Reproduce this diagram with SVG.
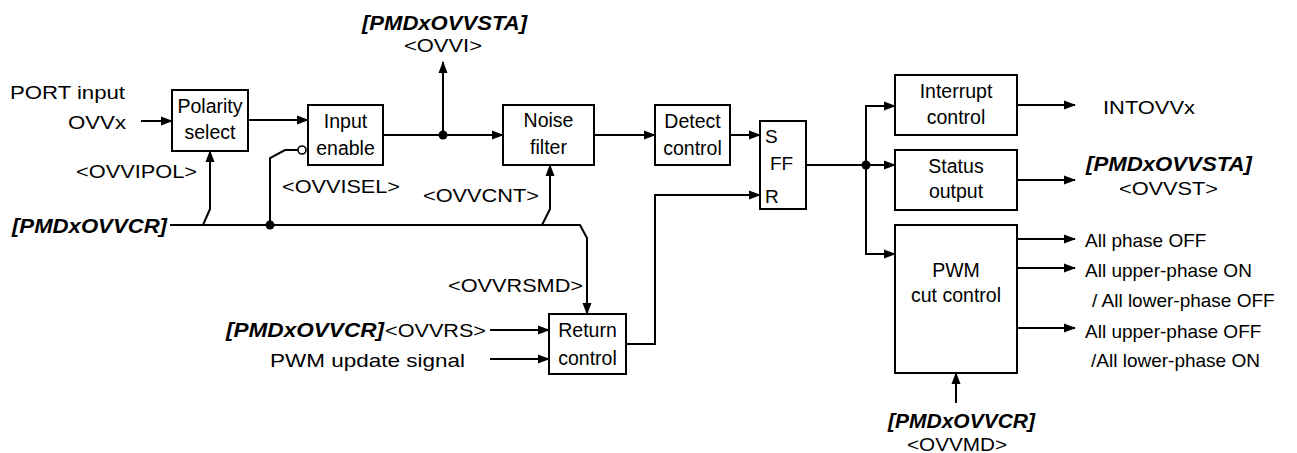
<svg xmlns="http://www.w3.org/2000/svg" width="1297" height="453" viewBox="0 0 1297 453">
<style>
text{font-family:"Liberation Sans",Arial,sans-serif;fill:#000}
.b{font-size:19.5px;text-anchor:middle}
.l{font-size:19px}
.r{font-size:21px;font-weight:bold;font-style:italic}
.box{fill:#fff;stroke:#000;stroke-width:2}
.w{fill:none;stroke:#000;stroke-width:2}
.a{fill:none;stroke:#000;stroke-width:2;marker-end:url(#ah)}
</style>
<defs>
<marker id="ah" markerWidth="12" markerHeight="10" refX="11" refY="5" orient="auto" markerUnits="userSpaceOnUse">
<path d="M0,0.5 L12,5 L0,9.5 Z" fill="#000"/>
</marker>
</defs>
<g id="connectors">
<path class="a" d="M141,121 H172"/>
<path class="a" d="M248,120 H308"/>
<path class="a" d="M170,225 H580 L587,238 V314"/>
<path class="a" d="M203,225 L210,209 V151"/>
<path class="w" d="M270,225 V158 L285,150 H298"/>
<circle cx="302" cy="150" r="4" fill="#fff" stroke="#000" stroke-width="1.6"/>
<circle cx="270" cy="225" r="4.5" fill="#000"/>
<path class="a" d="M383,135 H503"/>
<circle cx="443" cy="135" r="4.5" fill="#000"/>
<path class="a" d="M443,135 V62"/>
<path class="a" d="M542,225 L550,209 V165"/>
<path class="a" d="M594,135 H655"/>
<path class="a" d="M730,135 H760"/>
<path class="a" d="M626,344 H655 V195 H760"/>
<path class="a" d="M806,165 H895"/>
<circle cx="866" cy="165" r="4.5" fill="#000"/>
<path class="a" d="M866,165 V106 H895"/>
<path class="a" d="M866,165 V254 H895"/>
<path class="a" d="M1017,105 H1075"/>
<path class="a" d="M1017,180 H1075"/>
<path class="a" d="M1017,239 H1075"/>
<path class="a" d="M1017,268 H1075"/>
<path class="a" d="M1017,328 H1075"/>
<path class="a" d="M956,403 V373"/>
<path class="a" d="M490,330 H549"/>
<path class="a" d="M490,359 H549"/>
</g>
<g id="polarity">
<rect class="box" x="172" y="90" width="76" height="61"/>
<text class="b" x="210" y="113">Polarity</text>
<text class="b" x="210" y="139">select</text>
</g>
<g id="input-enable">
<rect class="box" x="308" y="105" width="75" height="60"/>
<text class="b" x="345.5" y="128">Input</text>
<text class="b" x="345.5" y="155">enable</text>
</g>
<g id="noise-filter">
<rect class="box" x="503" y="105" width="91" height="60"/>
<text class="b" x="548.5" y="127">Noise</text>
<text class="b" x="548.5" y="154">filter</text>
</g>
<g id="detect-control">
<rect class="box" x="655" y="105" width="75" height="60"/>
<text class="b" x="692.5" y="128">Detect</text>
<text class="b" x="692.5" y="155">control</text>
</g>
<g id="ff">
<rect class="box" x="760" y="121" width="46" height="88"/>
<text class="l" x="765" y="143">S</text>
<text class="l" x="770" y="170">FF</text>
<text class="l" x="765" y="203">R</text>
</g>
<g id="return-control">
<rect class="box" x="549" y="314" width="77" height="60"/>
<text class="b" x="587.5" y="337">Return</text>
<text class="b" x="587.5" y="365">control</text>
</g>
<g id="interrupt-control">
<rect class="box" x="895" y="75" width="122" height="60"/>
<text class="b" x="956" y="98">Interrupt</text>
<text class="b" x="956" y="124">control</text>
</g>
<g id="status-output">
<rect class="box" x="895" y="150" width="122" height="60"/>
<text class="b" x="956" y="173">Status</text>
<text class="b" x="956" y="198">output</text>
</g>
<g id="pwm-cut">
<rect class="box" x="895" y="225" width="122" height="148"/>
<text class="b" x="956" y="277">PWM</text>
<text class="b" x="956" y="302">cut control</text>
</g>
<g id="labels">
<text class="l" x="10" y="99" textLength="115" lengthAdjust="spacingAndGlyphs">PORT input</text>
<text class="l" x="68" y="129" textLength="58" lengthAdjust="spacingAndGlyphs">OVVx</text>
<text class="l" x="76" y="178" textLength="121" lengthAdjust="spacingAndGlyphs">&lt;OVVIPOL&gt;</text>
<text class="r" x="12" y="233" textLength="155" lengthAdjust="spacingAndGlyphs">[PMDxOVVCR]</text>
<text class="l" x="282" y="193" textLength="118" lengthAdjust="spacingAndGlyphs">&lt;OVVISEL&gt;</text>
<text class="l" x="423" y="202" textLength="116" lengthAdjust="spacingAndGlyphs">&lt;OVVCNT&gt;</text>
<text class="r" x="362" y="30" textLength="165" lengthAdjust="spacingAndGlyphs">[PMDxOVVSTA]</text>
<text class="l" x="404" y="52" textLength="78" lengthAdjust="spacingAndGlyphs">&lt;OVVI&gt;</text>
<text class="l" x="448" y="292" textLength="135" lengthAdjust="spacingAndGlyphs">&lt;OVVRSMD&gt;</text>
<text class="r" x="226" y="337" textLength="158" lengthAdjust="spacingAndGlyphs">[PMDxOVVCR]</text>
<text class="l" x="385" y="337" textLength="101" lengthAdjust="spacingAndGlyphs">&lt;OVVRS&gt;</text>
<text class="l" x="270" y="367" textLength="195" lengthAdjust="spacingAndGlyphs">PWM update signal</text>
<text class="l" x="1103" y="114" textLength="92" lengthAdjust="spacingAndGlyphs">INTOVVx</text>
<text class="r" x="1086" y="171" textLength="166" lengthAdjust="spacingAndGlyphs">[PMDxOVVSTA]</text>
<text class="l" x="1119" y="195" textLength="99" lengthAdjust="spacingAndGlyphs">&lt;OVVST&gt;</text>
<text class="l" x="1085" y="247">All phase OFF</text>
<text class="l" x="1085" y="277">All upper-phase ON</text>
<text class="l" x="1092" y="307">/ All lower-phase OFF</text>
<text class="l" x="1085" y="338">All upper-phase OFF</text>
<text class="l" x="1091" y="367">/All lower-phase ON</text>
<text class="r" x="888" y="428" textLength="147" lengthAdjust="spacingAndGlyphs">[PMDxOVVCR]</text>
<text class="l" x="907" y="451" textLength="100" lengthAdjust="spacingAndGlyphs">&lt;OVVMD&gt;</text>
</g>
</svg>
